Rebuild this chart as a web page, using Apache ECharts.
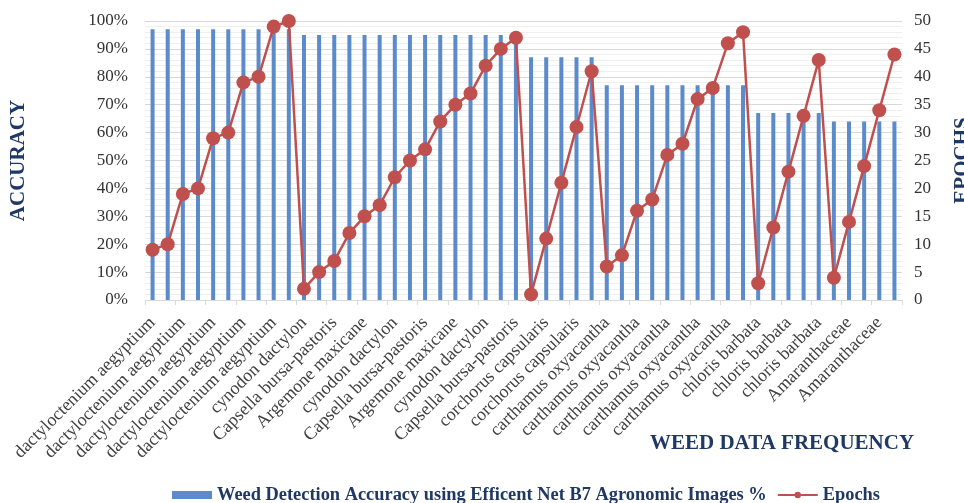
<!DOCTYPE html>
<html>
<head>
<meta charset="utf-8">
<script src="https://cdn.jsdelivr.net/npm/echarts@6/dist/echarts.min.js"></script>
<style>
  html, body { margin: 0; padding: 0; background: #ffffff; }
  #chart { width: 964px; height: 503px; }
</style>
</head>
<body>
<div id="chart"></div>
<script>
// Weed classes, one entry per image group on the x axis
const categories = [
  'dactyloctenium aegyptium', 'dactyloctenium aegyptium', 'dactyloctenium aegyptium', 'dactyloctenium aegyptium',
  'dactyloctenium aegyptium', 'dactyloctenium aegyptium', 'dactyloctenium aegyptium', 'dactyloctenium aegyptium',
  'dactyloctenium aegyptium', 'dactyloctenium aegyptium',
  'cynodon dactylon', 'cynodon dactylon', 'Capsella bursa-pastoris', 'Capsella bursa-pastoris',
  'Argemone maxicane', 'Argemone maxicane', 'cynodon dactylon', 'cynodon dactylon',
  'Capsella bursa-pastoris', 'Capsella bursa-pastoris', 'Argemone maxicane', 'Argemone maxicane',
  'cynodon dactylon', 'cynodon dactylon', 'Capsella bursa-pastoris',
  'corchorus capsularis', 'corchorus capsularis', 'corchorus capsularis', 'corchorus capsularis', 'corchorus capsularis',
  'carthamus oxyacantha', 'carthamus oxyacantha', 'carthamus oxyacantha', 'carthamus oxyacantha', 'carthamus oxyacantha',
  'carthamus oxyacantha', 'carthamus oxyacantha', 'carthamus oxyacantha', 'carthamus oxyacantha', 'carthamus oxyacantha',
  'chloris barbata', 'chloris barbata', 'chloris barbata', 'chloris barbata', 'chloris barbata',
  'Amaranthaceae', 'Amaranthaceae', 'Amaranthaceae', 'Amaranthaceae', 'Amaranthaceae'
];

// Detection accuracy (%) per group
const accuracy = [
  97, 97, 97, 97, 97, 97, 97, 97, 97, 97,
  95, 95, 95, 95, 95, 95, 95, 95, 95, 95, 95, 95, 95, 95, 95,
  87, 87, 87, 87, 87,
  77, 77, 77, 77, 77, 77, 77, 77, 77, 77,
  67, 67, 67, 67, 67,
  64, 64, 64, 64, 64
];

// Training epochs per group
const epochs = [
  9, 10, 19, 20, 29, 30, 39, 40, 49, 50,
  2, 5, 7, 12, 15, 17, 22, 25, 27, 32, 35, 37, 42, 45, 47,
  1, 11, 21, 31, 41,
  6, 8, 16, 18, 26, 28, 36, 38, 46, 48,
  3, 13, 23, 33, 43,
  4, 14, 24, 34, 44
];

// Axis tick values
const accuracyTicks = { min: 0, max: 100, interval: 10 };
const epochTicks = { min: 0, max: 50, interval: 5 };

const serif = '"Liberation Serif", "Times New Roman", serif';
const navy = '#1F3864';

const chart = echarts.init(document.getElementById('chart'), null, { renderer: 'canvas' });

chart.setOption({
  animation: false,
  backgroundColor: '#ffffff',
  grid: { left: 145, right: 62, top: 21, bottom: 203, containLabel: false, outerBoundsMode: 'none' },
  title: {
    text: 'WEED DATA FREQUENCY',
    left: 650,
    top: 433,
    padding: 0,
    textStyle: { fontFamily: serif, fontSize: 21, fontWeight: 'bold', color: navy }
  },
  legend: {
    left: 172,
    top: 486,
    padding: 0,
    itemWidth: 40,
    itemHeight: 8,
    itemGap: 10,
    textStyle: { fontFamily: serif, fontSize: 18.4, fontWeight: 'bold', color: navy },
    data: [
      { name: 'Weed Detection Accuracy using Efficent Net B7 Agronomic Images %', icon: 'rect' },
      { name: 'Epochs' }
    ]
  },
  xAxis: {
    type: 'category',
    data: categories,
    boundaryGap: true,
    axisLine: { show: true, lineStyle: { color: '#D9D9D9', width: 1 } },
    axisTick: { show: true, alignWithLabel: false, length: 5, lineStyle: { color: '#D9D9D9' } },
    axisLabel: {
      interval: 1,
      rotate: 45,
      margin: 20,
      fontFamily: serif,
      fontSize: 18,
      color: '#404040'
    },
    splitLine: { show: false }
  },
  yAxis: [
    {
      type: 'value',
      min: accuracyTicks.min,
      max: accuracyTicks.max,
      interval: accuracyTicks.interval,
      name: 'ACCURACY',
      nameLocation: 'middle',
      nameRotate: 90,
      nameGap: 116,
      nameTextStyle: { fontFamily: serif, fontSize: 21, fontWeight: 'bold', color: navy },
      axisLine: { show: false },
      axisTick: { show: false },
      axisLabel: {
        formatter: '{value}%',
        margin: 17,
        fontFamily: serif,
        fontSize: 17,
        color: '#333333'
      },
      splitLine: { show: true, lineStyle: { color: '#D9D9D9', width: 1 } },
      minorTick: { show: false, splitNumber: 5 },
      minorSplitLine: { show: true, lineStyle: { color: '#EFEFEF', width: 1 } }
    },
    {
      type: 'value',
      min: epochTicks.min,
      max: epochTicks.max,
      interval: epochTicks.interval,
      name: 'EPOCHS',
      nameLocation: 'middle',
      nameRotate: 90,
      nameGap: 50,
      nameTextStyle: { fontFamily: serif, fontSize: 21, fontWeight: 'bold', color: navy },
      axisLine: { show: false },
      axisTick: { show: false },
      axisLabel: {
        margin: 12,
        fontFamily: serif,
        fontSize: 17,
        color: '#333333'
      },
      splitLine: { show: false }
    }
  ],
  series: [
    {
      name: 'Weed Detection Accuracy using Efficent Net B7 Agronomic Images %',
      type: 'bar',
      yAxisIndex: 0,
      data: accuracy,
      barWidth: 4,
      itemStyle: { color: '#5B8BCB' }
    },
    {
      name: 'Epochs',
      type: 'line',
      yAxisIndex: 1,
      data: epochs,
      symbol: 'circle',
      symbolSize: 14,
      showSymbol: true,
      showAllSymbol: true,
      lineStyle: { color: '#C0504D', width: 2.5 },
      itemStyle: { color: '#C0504D' },
      z: 3
    }
  ]
});
</script>
</body>
</html>
